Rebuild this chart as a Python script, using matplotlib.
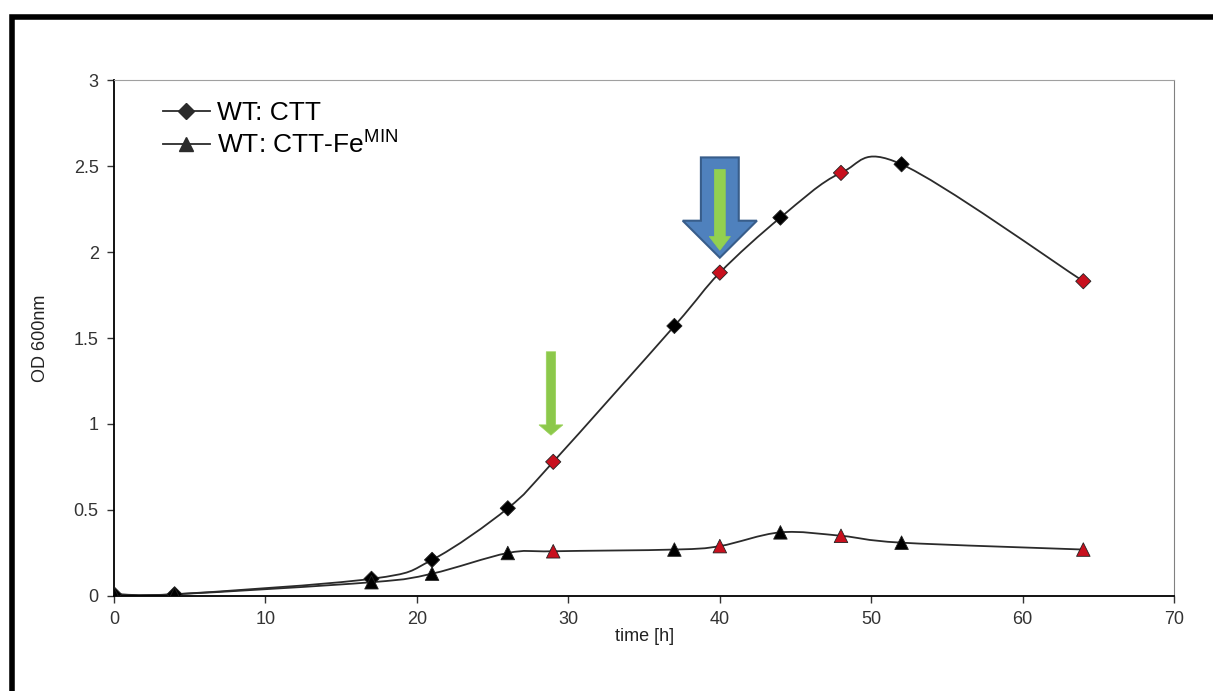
import matplotlib.pyplot as plt
import numpy as np
from matplotlib.path import Path
from matplotlib.patches import PathPatch, FancyArrow, Rectangle
from matplotlib.lines import Line2D

plt.rcParams['font.family'] = ['Liberation Sans', 'DejaVu Sans']
plt.rcParams['mathtext.fontset'] = 'custom'
plt.rcParams['mathtext.rm'] = 'Liberation Sans'

# growth data, OD600 over time
time_h = [0, 4, 17, 21, 26, 29, 37, 40, 44, 48, 52, 64]
od_ctt = [0.01, 0.01, 0.10, 0.21, 0.51, 0.78, 1.57, 1.88, 2.20, 2.46, 2.51, 1.83]
od_ctt_fe = [0.01, 0.01, 0.08, 0.13, 0.25, 0.26, 0.27, 0.29, 0.37, 0.35, 0.31, 0.27]
# sampled time points (marked red)
sampled_h = [29, 40, 48, 64]

x_ticks = [0, 10, 20, 30, 40, 50, 60, 70]
y_ticks = [0, 0.5, 1, 1.5, 2, 2.5, 3]
y_tick_labels = ['0', '0.5', '1', '1.5', '2', '2.5', '3']


def smooth_path(xs, ys):
    # Excel-like smoothed line: Catmull-Rom segments as cubic Beziers
    pts = np.column_stack([xs, ys]).astype(float)
    verts = [pts[0]]
    codes = [Path.MOVETO]
    n = len(pts)
    for i in range(n - 1):
        p0 = pts[i - 1] if i > 0 else pts[i]
        p1 = pts[i]
        p2 = pts[i + 1]
        p3 = pts[i + 2] if i + 2 < n else pts[i + 1]
        c1 = p1 + (p2 - p0) / 6.0
        c2 = p2 - (p3 - p1) / 6.0
        verts += [c1, c2, p2]
        codes += [Path.CURVE4] * 3
    return Path(verts, codes)


fig = plt.figure(figsize=(12.13, 6.91), dpi=100)
ax = fig.add_axes([0.094, 0.1375, 0.874, 0.7467])

line_col = '#2b2b2b'
for series in (od_ctt, od_ctt_fe):
    ax.add_patch(PathPatch(smooth_path(time_h, series), facecolor='none',
                           edgecolor=line_col, lw=1.3, zorder=2))

def marker_colors(xs):
    return ['#c8101e' if t in sampled_h else 'black' for t in xs]

ax.scatter(time_h, od_ctt, marker='D', s=60, c=marker_colors(time_h),
           edgecolors='#222222', linewidths=0.6, zorder=3)
ax.scatter(time_h, od_ctt_fe, marker='^', s=95, c=marker_colors(time_h),
           edgecolors='#222222', linewidths=0.6, zorder=3)

# arrows
ax.add_patch(FancyArrow(40, 2.55, 0, -0.583, width=2.5, head_width=4.9,
                        head_length=0.215, length_includes_head=True,
                        facecolor='#4f81bd', edgecolor='#385d8a', lw=1.5, zorder=4))
ax.add_patch(FancyArrow(40, 2.48, 0, -0.47, width=0.72, head_width=1.4,
                        head_length=0.08, length_includes_head=True,
                        facecolor='#92d050', edgecolor='#92d050', lw=0.5, zorder=5))
ax.add_patch(FancyArrow(28.85, 1.42, 0, -0.485, width=0.62, head_width=1.58,
                        head_length=0.06, length_includes_head=True,
                        facecolor='#8cc84b', edgecolor='#9bd35a', lw=0.5, zorder=5))

ax.set_xlim(0, 70)
ax.set_ylim(0, 3)
ax.set_xticks(x_ticks)
ax.set_yticks(y_ticks)
ax.set_yticklabels(y_tick_labels)
ax.tick_params(direction='out', length=5, width=1, labelsize=13,
               labelcolor='#333333', color='#333333', pad=6)
for side in ('left', 'bottom'):
    ax.spines[side].set_color('black')
    ax.spines[side].set_linewidth(1.3)
ax.spines['top'].set_color('#a0a0a0')
ax.spines['right'].set_color('#808080')

ax.set_xlabel('time [h]', fontsize=13, color='#222222', labelpad=0)
ax.set_ylabel('OD 600nm', fontsize=13, color='#222222', labelpad=18)

handles = [Line2D([], [], color=line_col, marker='D', markersize=8, lw=1.3),
           Line2D([], [], color=line_col, marker='^', markersize=10, lw=1.3)]
ax.legend(handles, ['WT: CTT', 'WT: CTT-Fe$^{\\mathrm{MIN}}$'],
          loc='upper left', bbox_to_anchor=(0.036, 0.98), frameon=False,
          fontsize=19, handlelength=1.8, handletextpad=0.25, labelspacing=0.2,
          borderaxespad=0)

# thick outer frame (cut off at right and bottom)
fig.patches.append(Rectangle((0.0103, -0.1), 1.2, 1.0747, transform=fig.transFigure,
                             fill=False, edgecolor='black', lw=4, clip_on=False))

plt.savefig('out.png', dpi=100)
